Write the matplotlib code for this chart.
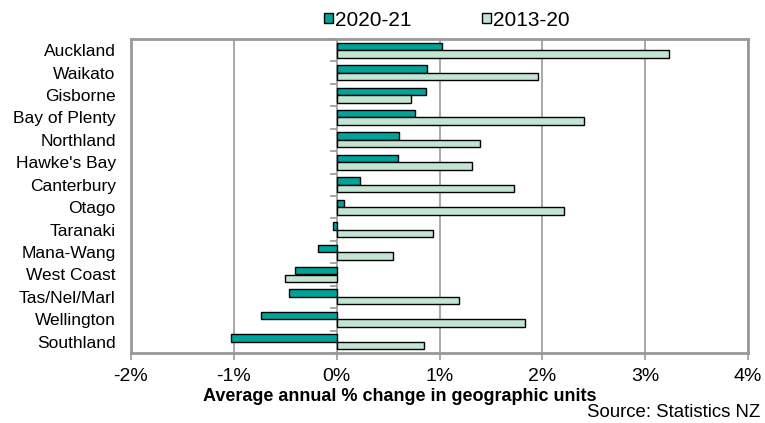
import matplotlib
matplotlib.use("Agg")
import matplotlib.pyplot as plt
from matplotlib.patches import Patch
import numpy as np

plt.rcParams['font.family'] = ['Liberation Sans', 'DejaVu Sans']

regions = ["Auckland", "Waikato", "Gisborne", "Bay of Plenty", "Northland",
           "Hawke's Bay", "Canterbury", "Otago", "Taranaki", "Mana-Wang",
           "West Coast", "Tas/Nel/Marl", "Wellington", "Southland"]
change_2020_21 = [1.02, 0.88, 0.87, 0.76, 0.61, 0.60, 0.23, 0.07, -0.04, -0.18,
                  -0.41, -0.46, -0.74, -1.03]
change_2013_20 = [3.23, 1.96, 0.72, 2.41, 1.39, 1.32, 1.72, 2.21, 0.94, 0.55,
                  -0.50, 1.19, 1.83, 0.85]
x_ticks = [-2, -1, 0, 1, 2, 3, 4]
x_tick_labels = ["-2%", "-1%", "0%", "1%", "2%", "3%", "4%"]

dark = "#00A39A"
light = "#C1E4D3"
grid_c = "#999999"

fig = plt.figure(figsize=(7.65, 4.23), dpi=100)
ax = fig.add_axes([131/765, 1-353/423, (748-131)/765, (353-39)/423])

y = np.arange(len(regions))
h = 0.335
ax.barh(y - h/2, change_2020_21, height=h, color=dark, edgecolor="black", linewidth=1.0, zorder=3)
ax.barh(y + h/2, change_2013_20, height=h, color=light, edgecolor="black", linewidth=1.0, zorder=3)

ax.set_xlim(-2, 4)
ax.set_ylim(len(regions) - 0.5, -0.5)
ax.set_xticks(x_ticks)
ax.set_xticklabels(x_tick_labels, fontsize=14)
ax.tick_params(axis='x', direction='out', length=5, width=1.2, color=grid_c, pad=6)
ax.set_yticks(y)
ax.set_yticklabels(regions, fontsize=12.5)
ax.tick_params(axis='y', length=0, pad=11)

ax.grid(axis='x', color=grid_c, linewidth=1.2, zorder=0)
for s in ax.spines.values():
    s.set_color(grid_c)
    s.set_linewidth(2)

# small ticks at category boundaries on the zero line
sec = ax.secondary_yaxis(1/3)
sec.set_yticks(np.arange(len(regions) + 1) - 0.5)
sec.set_yticklabels([])
sec.tick_params(axis='y', direction='out', length=5, width=1.2, color=grid_c)
sec.spines['left'].set_visible(False)
sec.spines['right'].set_visible(False)

fig.text(400/765, 1-396/423, "Average annual % change in geographic units",
         ha='center', va='center', fontsize=13, fontweight='bold')
fig.text(760/765, 1-412/423, "Source: Statistics NZ", ha='right', va='center', fontsize=13.4)

handles = [Patch(facecolor=dark, edgecolor='black', linewidth=1.0, label="2020-21"),
           Patch(facecolor=light, edgecolor='black', linewidth=1.0, label="2013-20")]
fig.legend(handles=handles, loc='center', bbox_to_anchor=(447/765, 1-20/423),
           ncol=2, frameon=False, fontsize=15, handlelength=0.4, handleheight=0.4,
           handletextpad=0.12, columnspacing=3.4, borderpad=0.2)

fig.savefig("out.png", dpi=100)
